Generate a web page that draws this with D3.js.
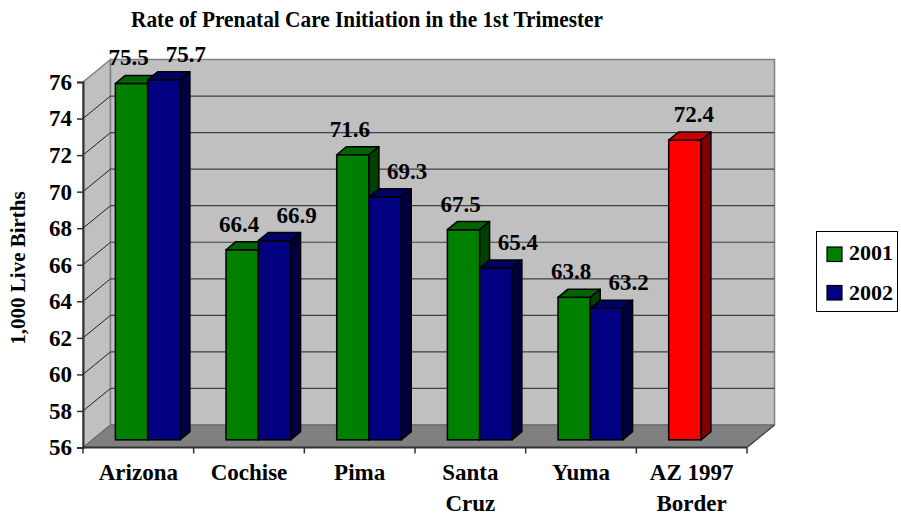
<!DOCTYPE html>
<html>
<head>
<meta charset="utf-8">
<script src="https://cdn.jsdelivr.net/npm/d3@7"></script>
<style>
    body { margin: 0; background: #fff; }
    svg text { font-family: "Liberation Serif", "Times New Roman", serif; font-weight: bold; fill: #000; }
</style>
</head>
<body>
<svg id="chart" width="901" height="516"></svg>
<script>
var categories = ['Arizona', 'Cochise', 'Pima', 'Santa Cruz', 'Yuma', 'AZ 1997 Border'];
var categoryLines = [['Arizona'], ['Cochise'], ['Pima'], ['Santa', 'Cruz'], ['Yuma'], ['AZ 1997', 'Border']];
var seriesNames = ['2001', '2002'];
var values2001 = [75.5, 66.4, 71.6, 67.5, 63.8, 72.4];
var values2002 = [75.7, 66.9, 69.3, 65.4, 63.2, null];
var yTicks = [56, 58, 60, 62, 64, 66, 68, 70, 72, 74, 76];

var colors = { '2001': '#008000', '2002': '#000080', border: '#ff0000' };

var svg = d3.select('#chart');

// plot frame (front plane) and the 3d depth offset
var plotLeft = 83, plotRight = 747, plotTop = 82, plotBottom = 447.5;
var depthX = 27.5, depthY = -22.5;
var barFront = 0.34, barBack = 0.70;

var y = d3.scaleLinear().domain([56, 76]).range([plotBottom, plotTop]);
var x = d3.scaleBand().domain(categories).range([plotLeft, plotRight]).padding(0);
var groupW = x.bandwidth() * 0.584;
var x1 = d3.scaleBand().domain(seriesNames)
    .range([(x.bandwidth() - groupW) / 2, (x.bandwidth() + groupW) / 2]).padding(0);

function shade(c, k) {
    var col = d3.rgb(c);
    return d3.rgb(col.r * k, col.g * k, col.b * k).toString();
}
function pts(a) { return a.map(function(p) { return p.join(','); }).join(' '); }

// walls
svg.append('polygon')
    .attr('points', pts([[plotLeft, plotTop], [plotLeft + depthX, plotTop + depthY], [plotLeft + depthX, plotBottom + depthY], [plotLeft, plotBottom]]))
    .attr('fill', '#c0c0c0').attr('stroke', '#808080').attr('stroke-width', 1.5);
svg.append('polygon')
    .attr('points', pts([[plotLeft + depthX, plotTop + depthY], [plotRight + depthX, plotTop + depthY], [plotRight + depthX, plotBottom + depthY], [plotLeft + depthX, plotBottom + depthY]]))
    .attr('fill', '#c0c0c0').attr('stroke', '#808080').attr('stroke-width', 1.5);
svg.append('polygon')
    .attr('points', pts([[plotLeft, plotBottom], [plotLeft + depthX, plotBottom + depthY], [plotRight + depthX, plotBottom + depthY], [plotRight, plotBottom]]))
    .attr('fill', '#808080').attr('stroke', '#606060').attr('stroke-width', 1);

// gridlines on back and side wall
var grid = svg.append('g');
yTicks.slice(1, -1).forEach(function(t) {
    grid.append('line')
        .attr('x1', plotLeft + depthX).attr('x2', plotRight + depthX)
        .attr('y1', y(t) + depthY).attr('y2', y(t) + depthY)
        .attr('stroke', '#404040').attr('stroke-width', 1.2);
    grid.append('line')
        .attr('x1', plotLeft).attr('x2', plotLeft + depthX)
        .attr('y1', y(t)).attr('y2', y(t) + depthY)
        .attr('stroke', '#202020').attr('stroke-width', 1);
});

// bars
var bars = [];
categories.forEach(function(c, i) {
    [values2001[i], values2002[i]].forEach(function(v, s) {
        if (v === null) return;
        var fill = (c === 'AZ 1997 Border') ? colors.border : colors[seriesNames[s]];
        bars.push({ cat: c, series: seriesNames[s], value: v, fill: fill });
    });
});

var dx0 = depthX * barFront, dy0 = depthY * barFront;
var dd = depthX * (barBack - barFront), ddy = depthY * (barBack - barFront);

var barG = svg.append('g');
bars.forEach(function(d) {
    var x0 = x(d.cat) + x1(d.series) + dx0;
    var xr = x0 + x1.bandwidth();
    var yt = y(d.value) + dy0;
    var yb = y(56) + dy0;
    d.cx = (x0 + xr) / 2;
    d.topY = yt + ddy;
    var g = barG.append('g');
    g.append('rect')
        .attr('x', x0).attr('y', yt).attr('width', xr - x0).attr('height', yb - yt)
        .attr('fill', d.fill).attr('stroke', '#000').attr('stroke-width', 1.5);
    g.append('polygon')
        .attr('points', pts([[x0, yt], [xr, yt], [xr + dd, yt + ddy], [x0 + dd, yt + ddy]]))
        .attr('fill', shade(d.fill, 0.78)).attr('stroke', '#000').attr('stroke-width', 1.5)
        .attr('stroke-linejoin', 'round');
    g.append('polygon')
        .attr('points', pts([[xr, yt], [xr + dd, yt + ddy], [xr + dd, yb + ddy], [xr, yb]]))
        .attr('fill', shade(d.fill, 0.5)).attr('stroke', '#000').attr('stroke-width', 1.5)
        .attr('stroke-linejoin', 'round');
});

// data labels
var labelDx = { '2001': -3, '2002': 22 };
svg.append('g').selectAll('text')
    .data(bars)
    .join('text')
    .attr('x', function(d) { return d.cx + (d.cat === 'AZ 1997 Border' ? 9 : labelDx[d.series]); })
    .attr('y', function(d) { return d.topY - 10; })
    .attr('text-anchor', 'middle')
    .style('font-size', '23px')
    .text(function(d) { return d.value.toFixed(1); });

// y axis
var yAxis = svg.append('g')
    .attr('transform', 'translate(' + plotLeft + ',0)')
    .call(d3.axisLeft(y).tickValues(yTicks).tickSize(6).tickPadding(5).tickFormat(d3.format('d')));
yAxis.select('.domain').attr('stroke', '#303030').attr('stroke-width', 2);
yAxis.selectAll('.tick line').attr('stroke', '#303030').attr('stroke-width', 1.5);
yAxis.selectAll('.tick text')
    .attr('font-family', null).attr('font-size', null)
    .style('font-size', '23px');

// x axis (front floor edge)
var xAxis = svg.append('g');
xAxis.append('line')
    .attr('x1', plotLeft).attr('x2', plotRight).attr('y1', plotBottom).attr('y2', plotBottom)
    .attr('stroke', '#303030').attr('stroke-width', 2);
xAxis.append('line')
    .attr('x1', plotRight).attr('x2', plotRight + depthX).attr('y1', plotBottom).attr('y2', plotBottom + depthY)
    .attr('stroke', '#404040').attr('stroke-width', 1.2);
categories.concat([null]).forEach(function(c) {
    var tx = c === null ? plotRight : x(c);
    xAxis.append('line')
        .attr('x1', tx).attr('x2', tx).attr('y1', plotBottom).attr('y2', plotBottom + 6)
        .attr('stroke', '#303030').attr('stroke-width', 1.5);
});
categories.forEach(function(c, i) {
    var t = xAxis.append('text')
        .attr('text-anchor', 'middle')
        .style('font-size', '23px');
    categoryLines[i].forEach(function(line, k) {
        t.append('tspan')
            .attr('x', x(c) + x.bandwidth() / 2)
            .attr('y', 480 + k * 31)
            .text(line);
    });
});

// titles
svg.append('text')
    .attr('x', 367).attr('y', 27)
    .attr('text-anchor', 'middle')
    .attr('textLength', 472).attr('lengthAdjust', 'spacingAndGlyphs')
    .style('font-size', '24px')
    .text('Rate of Prenatal Care Initiation in the 1st Trimester');

svg.append('text')
    .attr('transform', 'translate(25,268) rotate(-90)')
    .attr('text-anchor', 'middle')
    .style('font-size', '21px')
    .text('1,000 Live Births');

// legend
var legend = svg.append('g');
legend.append('rect')
    .attr('x', 816.5).attr('y', 231.5).attr('width', 81).attr('height', 80)
    .attr('fill', '#fff').attr('stroke', '#000').attr('stroke-width', 1);
seriesNames.forEach(function(s, i) {
    legend.append('rect')
        .attr('x', 827).attr('y', 247 + i * 38.5).attr('width', 15).attr('height', 14.5)
        .attr('fill', colors[s]).attr('stroke', '#000').attr('stroke-width', 1.2);
    legend.append('text')
        .attr('x', 849).attr('y', 260 + i * 39.5)
        .style('font-size', '22px')
        .text(s);
});
</script>
</body>
</html>
